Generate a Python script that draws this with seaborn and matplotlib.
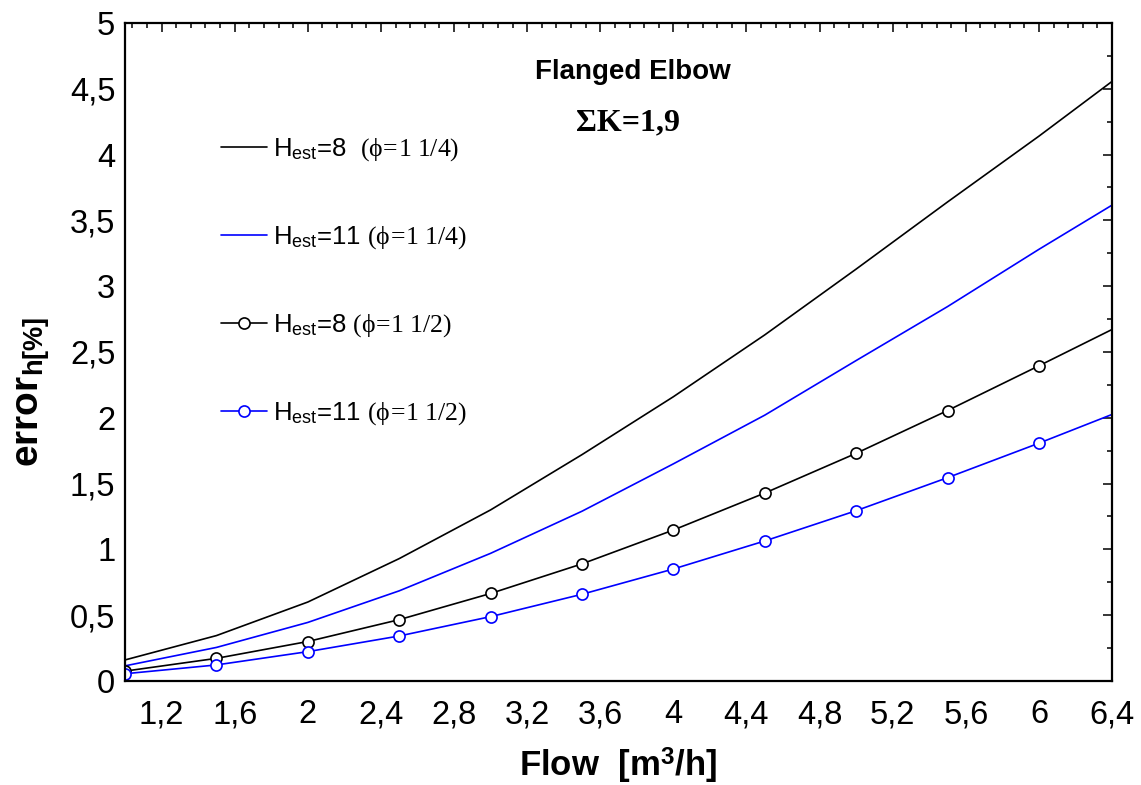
import numpy as np
import pandas as pd
import matplotlib
matplotlib.use('Agg')
import matplotlib.pyplot as plt
import matplotlib.ticker as mticker
import seaborn as sns

# flow [m3/h] and head-loss error [%]
flow = [1.0, 1.5, 2.0, 2.5, 3.0, 3.5, 4.0, 4.5, 5.0, 5.5, 6.0, 6.5]
err_h8_114 = [0.16, 0.345, 0.60, 0.93, 1.30, 1.72, 2.16, 2.63, 3.13, 3.64, 4.14, 4.66]
err_h11_114 = [0.115, 0.255, 0.445, 0.685, 0.97, 1.29, 1.65, 2.02, 2.435, 2.845, 3.28, 3.70]
err_h8_112 = [0.075, 0.172, 0.30, 0.466, 0.665, 0.89, 1.147, 1.428, 1.73, 2.055, 2.395, 2.74]
err_h11_112 = [0.055, 0.122, 0.223, 0.342, 0.489, 0.659, 0.851, 1.064, 1.294, 1.545, 1.807, 2.08]

labels = [r'H$_{\mathsf{est}}$=8  $\mathrm{(ϕ\!=\!1\ 1/4)}$',
          r'H$_{\mathsf{est}}$=11 $\mathrm{(ϕ\!=\!1\ 1/4)}$',
          r'H$_{\mathsf{est}}$=8 $\mathrm{(ϕ\!=\!1\ 1/2)}$',
          r'H$_{\mathsf{est}}$=11 $\mathrm{(ϕ\!=\!1\ 1/2)}$']

x_ticks = [1.2, 1.6, 2.0, 2.4, 2.8, 3.2, 3.6, 4.0, 4.4, 4.8, 5.2, 5.6, 6.0, 6.4]
y_ticks = [0, 0.5, 1, 1.5, 2, 2.5, 3, 3.5, 4, 4.5, 5]

sns.set_style('white')
plt.rcParams['font.family'] = ['Liberation Sans', 'DejaVu Sans']
plt.rcParams['text.color'] = 'black'
plt.rcParams['axes.labelcolor'] = 'black'
plt.rcParams['xtick.color'] = 'black'
plt.rcParams['ytick.color'] = 'black'
plt.rcParams['mathtext.fontset'] = 'custom'
plt.rcParams['mathtext.rm'] = 'Liberation Serif'
plt.rcParams['mathtext.it'] = 'Liberation Serif:italic'
plt.rcParams['mathtext.sf'] = 'Liberation Sans'
plt.rcParams['mathtext.bf'] = 'Liberation Sans:bold'

fig = plt.figure(figsize=(11.41, 7.85), dpi=100)
ax = fig.add_axes([0.1096, 0.1325, 0.8650, 0.8382])

series = [err_h8_114, err_h11_114, err_h8_112, err_h11_112]
colors = ['black', 'blue', 'black', 'blue']
marks = [None, None, 'o', 'o']
for vals, c, m, lab in zip(series, colors, marks, labels):
    df = pd.DataFrame({'flow': flow, 'err': vals})
    kw = {}
    if m:
        kw = dict(marker='o', markersize=8, markerfacecolor='white',
                  markeredgecolor=c, markeredgewidth=1.2)
    sns.lineplot(data=df, x='flow', y='err', color=c, linewidth=1.2,
                 label=lab, ax=ax, **kw)

ax.set_xlim(1.0, 6.4)
ax.set_ylim(0, 5)

fmt = mticker.FuncFormatter(lambda v, p: f'{v:g}'.replace('.', ','))
ax.xaxis.set_major_locator(mticker.FixedLocator(x_ticks))
ax.xaxis.set_minor_locator(mticker.MultipleLocator(0.08))
ax.yaxis.set_major_locator(mticker.FixedLocator(y_ticks))
ax.yaxis.set_minor_locator(mticker.MultipleLocator(0.25))
ax.xaxis.set_major_formatter(fmt)
ax.yaxis.set_major_formatter(fmt)

ax.tick_params(which='both', direction='in', top=True, right=True,
               width=1.1, colors='black', labelsize=23.5)
ax.tick_params(which='major', length=6.5)
ax.tick_params(which='minor', length=3.8)
ax.tick_params(axis='x', which='major', pad=13)
ax.tick_params(axis='y', which='major', pad=7)
for s in ax.spines.values():
    s.set_linewidth(1.6)
    s.set_color('black')

ax.set_xlabel(r'Flow  [m$^{\mathbf{3}}$/h]', fontsize=25, fontweight='bold')
ax.set_ylabel(r'error$_{\mathbf{h[\%]}}$', fontsize=28, fontweight='bold')
ax.xaxis.set_label_coords(0.5, -0.098)
ax.yaxis.set_label_coords(-0.073, 0.44)

ax.text(0.515, 0.926, 'Flanged Elbow', transform=ax.transAxes,
        ha='center', va='center', fontsize=20, fontweight='bold')
ax.text(0.510, 0.848, 'ΣK=1,9', transform=ax.transAxes, ha='center',
        va='center', fontsize=23, fontweight='bold',
        family=['Liberation Serif', 'DejaVu Serif'])

ax.legend(loc='upper left', bbox_to_anchor=(0.097, 0.828), frameon=False,
          fontsize=18.5, handlelength=1.8, handletextpad=0.25,
          labelspacing=2.38, borderaxespad=0, borderpad=0)

fig.savefig('out.png', dpi=100)
